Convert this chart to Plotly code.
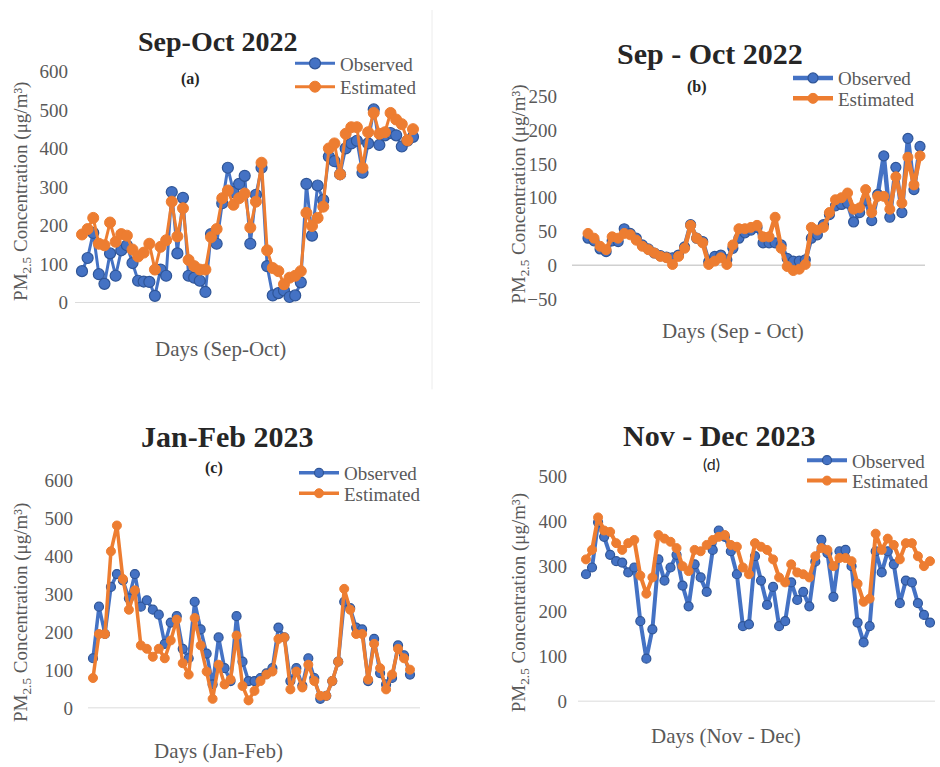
import plotly.graph_objects as go

W, H = 940, 767

# ---- data: daily PM2.5 (µg/m³), observed vs estimated ----
obs_a = [82, 116, 181, 74, 49, 128, 70, 136, 149, 103,
         57, 55, 54, 18, 86, 70, 287, 128, 272, 70,
         65, 57, 28, 178, 153, 258, 350, 287, 308, 329,
         153, 280, 350, 95, 19, 25, 32, 15, 19, 53,
         308, 174, 304, 266, 379, 367, 333, 400, 413, 420,
         337, 413, 501, 409, 434, 440, 434, 405, 420, 430]
est_a = [177, 191, 220, 153, 149, 208, 158, 178, 174, 138,
         120, 130, 153, 86, 145, 162, 262, 172, 245, 111,
         95, 86, 86, 170, 191, 271, 291, 254, 271, 283,
         195, 262, 363, 136, 90, 82, 48, 65, 70, 82,
         233, 199, 220, 249, 400, 413, 333, 438, 455, 455,
         350, 442, 492, 438, 442, 492, 475, 463, 421, 450]

obs_b = [40, 36, 24, 20, 36, 35, 54, 47, 40, 30,
         24, 18, 14, 12, 11, 15, 27, 60, 40, 35,
         5, 13, 15, 8, 25, 40, 48, 52, 56, 33,
         33, 33, 30, 10, 6, 6, 8, 40, 45, 60,
         75, 88, 90, 92, 64, 78, 96, 66, 105, 162,
         71, 145, 78, 188, 112, 176]
est_b = [47, 40, 28, 23, 42, 40, 47, 45, 37, 28,
         23, 18, 13, 11, 1, 13, 25, 59, 40, 33,
         1, 6, 11, 1, 30, 54, 54, 56, 59, 42,
         42, 71, 25, -2, -8, -6, 1, 56, 52, 56,
         78, 97, 100, 107, 83, 85, 112, 78, 102, 102,
         83, 131, 92, 160, 119, 162]

obs_c = [132, 268, 196, 320, 354, 337, 290, 354, 268, 285,
         260, 247, 170, 226, 243, 157, 132, 281, 208, 144,
         63, 187, 106, 72, 243, 123, 72, 72, 80, 92,
         106, 213, 187, 72, 106, 60, 132, 80, 25, 33,
         72, 123, 281, 264, 213, 208, 72, 183, 93, 63,
         80, 166, 140, 89]
est_c = [80, 196, 196, 414, 482, 341, 260, 311, 166, 157,
         136, 157, 132, 179, 234, 119, 89, 238, 166, 97,
         25, 115, 63, 76, 192, 59, 21, 46, 72, 89,
         97, 183, 187, 50, 97, 55, 115, 72, 33, 33,
         72, 123, 315, 260, 196, 196, 76, 170, 106, 50,
         89, 157, 132, 102]

obs_d = [282, 297, 397, 365, 325, 311, 308, 286, 297, 178,
         95, 160, 315, 268, 297, 325, 257, 211, 304, 275,
         243, 336, 379, 365, 333, 282, 167, 171, 322, 268,
         214, 254, 167, 178, 264, 225, 243, 211, 310, 358,
         329, 232, 333, 336, 300, 175, 131, 167, 333, 286,
         333, 304, 218, 268, 264, 218, 192, 175]
est_d = [315, 336, 408, 379, 376, 351, 336, 351, 358, 279,
         239, 275, 369, 361, 354, 340, 300, 289, 336, 333,
         347, 358, 365, 369, 347, 343, 297, 282, 351, 343,
         336, 315, 275, 264, 304, 286, 282, 275, 322, 340,
         336, 300, 318, 318, 311, 261, 221, 228, 372, 336,
         361, 347, 315, 351, 351, 322, 300, 311]

titles = ["Sep-Oct 2022", "Sep - Oct 2022", "Jan-Feb 2023", "Nov - Dec 2023"]
tags = ["(a)", "(b)", "(c)", "(d)"]
xlabels = ["Days (Sep-Oct)", "Days (Sep - Oct)", "Days (Jan-Feb)", "Days (Nov - Dec)"]
series_names = ["Observed", "Estimated"]
ytick_vals = [
    [0, 100, 200, 300, 400, 500, 600],
    [-50, 0, 50, 100, 150, 200, 250],
    [0, 100, 200, 300, 400, 500, 600],
    [0, 100, 200, 300, 400, 500],
]
yranges = [(0, 600), (-50, 250), (0, 600), (0, 500)]

BLUE = "#4472C4"
BLUE_EDGE = "#2F5597"
ORANGE = "#ED7D31"
GREY = "#595959"
DARK = "#262626"
SERIF = "Liberation Serif, Times New Roman, serif"
SANS = "Lato, Open Sans, sans-serif"

# ---- layout geometry (pixels) ----
panels = [
    dict(obs=obs_a, est=est_a, L=75, R=420, f=82, l=413, ytop=63, ybot=301,
         lw=3, ms=11, title_xy=(217, 32), title_size=28, tag_xy=(190, 71),
         xl_xy=(220, 349), yt_xy=(22, 187), leg_x=290, leg_y=(55, 79),
         stand=6, tagfont=SERIF, tagbold=True),
    dict(obs=obs_b, est=est_b, L=572, R=925, f=588, l=920, ytop=89, ybot=297,
         lw=4.5, ms=10, title_xy=(710, 45), title_size=30, tag_xy=(697, 79),
         xl_xy=(733, 330), yt_xy=(520, 190), leg_x=788, leg_y=(70, 91),
         stand=14, tagfont=SERIF, tagbold=True),
    dict(obs=obs_c, est=est_c, L=88, R=420, f=93, l=410, ytop=484, ybot=718,
         lw=3.5, ms=9, title_xy=(227, 438), title_size=30, tag_xy=(214, 471),
         xl_xy=(218, 762), yt_xy=(22, 620), leg_x=294, leg_y=(476, 497),
         stand=14, tagfont=SERIF, tagbold=True),
    dict(obs=obs_d, est=est_d, L=578, R=935, f=586, l=930, ytop=479, ybot=711,
         lw=4, ms=9, title_xy=(719, 437), title_size=30, tag_xy=(711, 466),
         xl_xy=(726, 746), yt_xy=(520, 610), leg_x=802, leg_y=(463, 484),
         stand=10, tagfont=SANS, tagbold=False),
]


def px(x):
    return x / W


def py(y):
    return 1 - y / H


def note(text, x, y, size, color, family, angle=0):
    return dict(text=text, x=px(x), y=py(y), xref="paper", yref="paper",
                xanchor="center", yanchor="middle", showarrow=False, textangle=angle,
                font=dict(family=family, size=size, color=color))


fig = go.Figure()
annotations = []
shapes = []
layout_extra = {}
leg_count = 0

for k, p in enumerate(panels):
    n = len(p["obs"])
    days = list(range(1, n + 1))
    s = (p["l"] - p["f"]) / (n - 1)
    xr = [1 + (p["L"] - p["f"]) / s, n + (p["R"] - p["l"]) / s]
    sfx = "" if k == 0 else str(k + 1)
    xa, ya = "x" + sfx, "y" + sfx

    layout_extra["xaxis" + sfx] = dict(
        domain=[px(p["L"]), px(p["R"])], range=xr, anchor=ya,
        showticklabels=False, showgrid=False, zeroline=False, showline=False,
    )
    layout_extra["yaxis" + sfx] = dict(
        domain=[py(p["ybot"]), py(p["ytop"])], range=list(yranges[k]), anchor=xa,
        tickvals=ytick_vals[k], showgrid=False, zeroline=False, showline=False,
        tickfont=dict(family=SERIF, size=19, color=GREY), ticks="",
        ticklabelstandoff=p["stand"],
    )

    # category axis line at zero
    shapes.append(dict(
        type="line", xref=xa + " domain", yref=ya, x0=0, x1=1, y0=0, y1=0,
        line=dict(color="#d0d0d0", width=1.5), layer="below",
    ))

    styles = [
        dict(line=dict(color=BLUE, width=p["lw"]),
             marker=dict(color=BLUE, size=p["ms"], line=dict(color=BLUE_EDGE, width=1.2))),
        dict(line=dict(color=ORANGE, width=p["lw"]),
             marker=dict(color=ORANGE, size=p["ms"], line=dict(color=ORANGE, width=1))),
    ]
    for j, (name, vals) in enumerate(zip(series_names, [p["obs"], p["est"]])):
        leg_count += 1
        leg = "legend" if leg_count == 1 else "legend%d" % leg_count
        fig.add_trace(go.Scatter(
            x=days, y=vals, mode="lines+markers", name=name,
            xaxis=xa, yaxis=ya, legend=leg, cliponaxis=False, **styles[j],
        ))
        layout_extra[leg] = dict(
            x=px(p["leg_x"]), y=py(p["leg_y"][j]), xanchor="left", yanchor="middle",
            bgcolor="rgba(0,0,0,0)", font=dict(family=SERIF, size=19, color=GREY),
            itemwidth=40,
        )

    tag = "<b>%s</b>" % tags[k] if p["tagbold"] else tags[k]
    annotations += [
        note("<b>" + titles[k] + "</b>", *p["title_xy"], p["title_size"], DARK, SERIF),
        note(tag, *p["tag_xy"], 16, DARK, p["tagfont"]),
        note(xlabels[k], *p["xl_xy"], 21, GREY, SERIF),
        note("PM<sub>2.5</sub> Concentration (μg/m³)", *p["yt_xy"], 19, GREY, SERIF, angle=-90),
    ]

# faint panel edge to the right of panel (a)
shapes.append(dict(type="line", xref="paper", yref="paper", x0=px(432), x1=px(432),
                   y0=py(0), y1=py(390), line=dict(color="#ececec", width=1)))

fig.update_layout(
    width=W, height=H, margin=dict(l=0, r=0, t=0, b=0),
    paper_bgcolor="white", plot_bgcolor="white",
    showlegend=True, annotations=annotations, shapes=shapes,
    **layout_extra,
)

fig.write_html("out.html")
